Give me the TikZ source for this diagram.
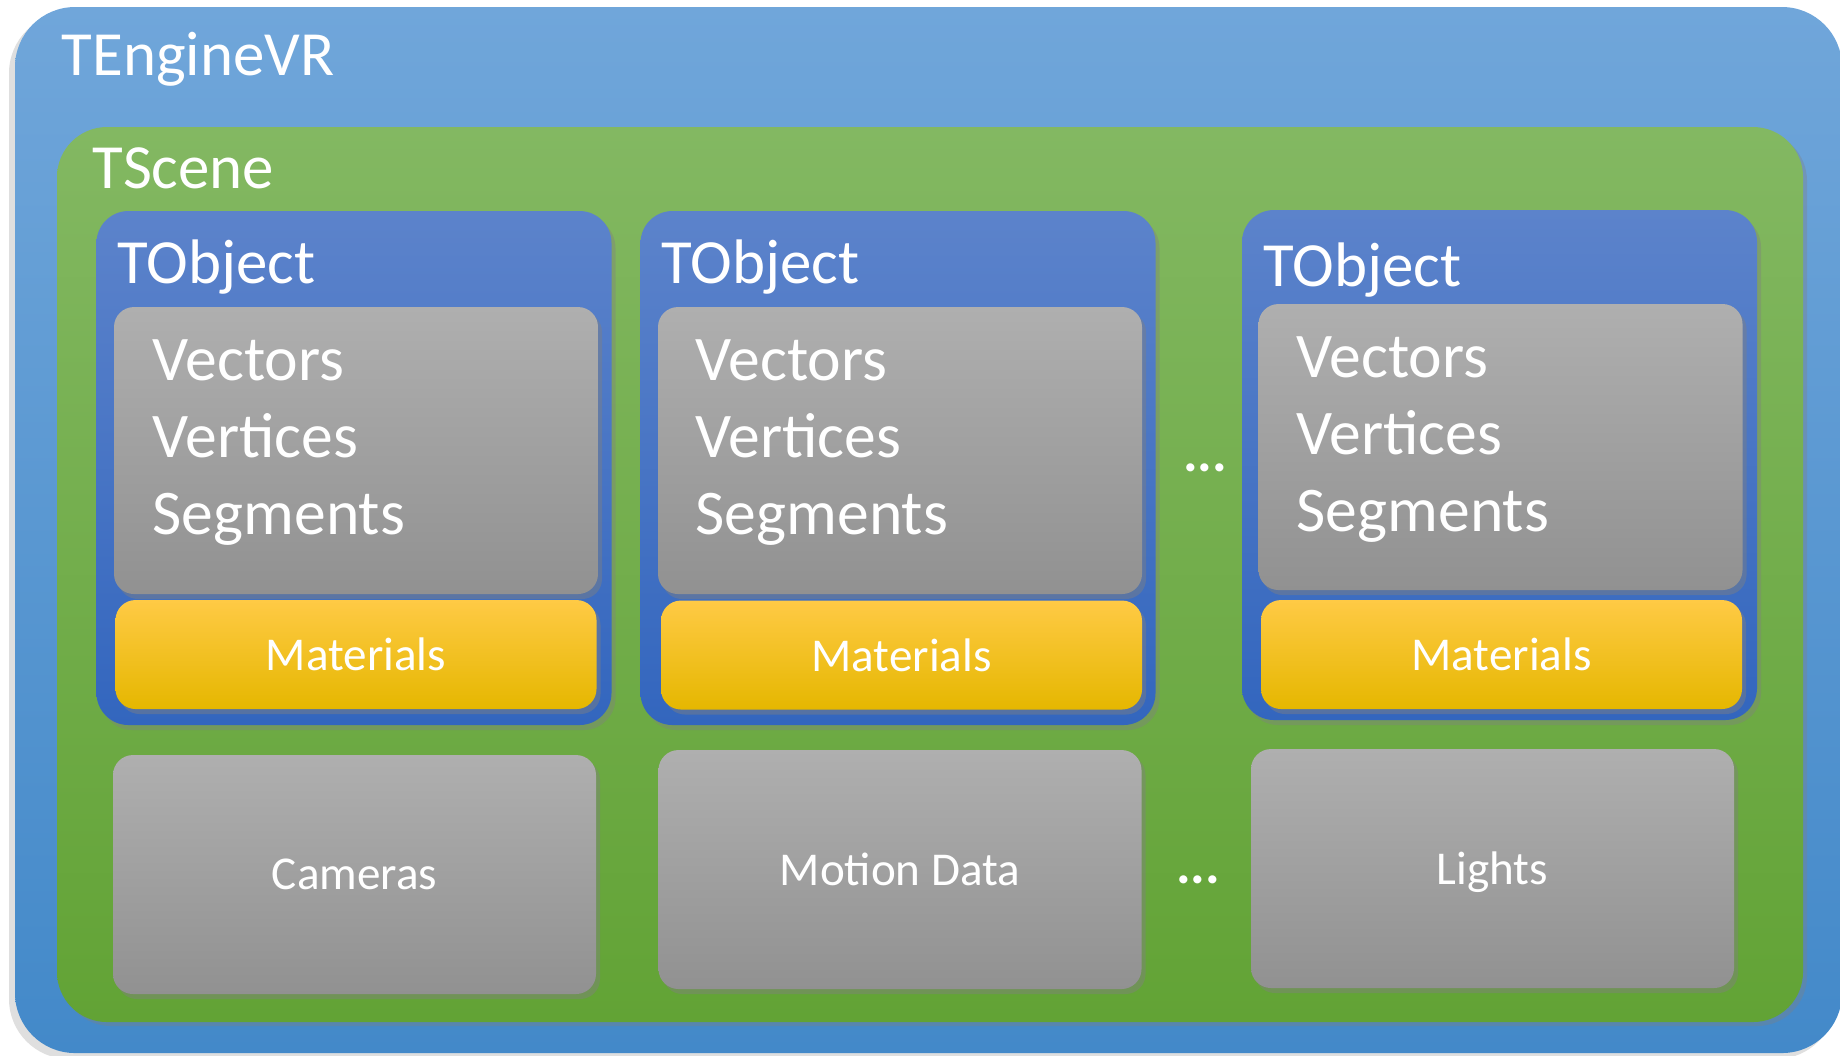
\documentclass[tikz,border=0pt]{standalone}
\usepackage{fontspec}
\setmainfont{Carlito}
\usepackage{tikz}
\usetikzlibrary{positioning,shadows}

\definecolor{engtop}{HTML}{70A6DA}
\definecolor{engbot}{HTML}{4389C9}
\definecolor{scntop}{HTML}{83B862}
\definecolor{scnbot}{HTML}{62A335}
\definecolor{objtop}{HTML}{5C83CB}
\definecolor{objbot}{HTML}{3366BE}
\definecolor{grytop}{HTML}{AFAFAF}
\definecolor{grybot}{HTML}{919191}
\definecolor{mattop}{HTML}{FFCA45}
\definecolor{matmid}{HTML}{FFC000}
\definecolor{matbot}{HTML}{E5B700}

\begin{document}
\begin{tikzpicture}[
    text=white,
    engine/.style={rectangle, top color=engtop, bottom color=engbot, rounded corners=0.6cm, minimum width=18.27cm, minimum height=10.46cm, drop shadow={shadow xshift=-0.06cm, shadow yshift=-0.06cm, opacity=0.25}},
    scene/.style={rectangle, top color=scntop, bottom color=scnbot, rounded corners=0.5cm, minimum width=17.46cm, minimum height=8.95cm, drop shadow={shadow xshift=0.04cm, shadow yshift=-0.04cm, opacity=0.35}},
    objbox/.style={rectangle, top color=objtop, bottom color=objbot, rounded corners=0.32cm, minimum width=5.15cm, minimum height=5.14cm, drop shadow={shadow xshift=0.04cm, shadow yshift=-0.05cm, opacity=0.4}},
    datbox/.style={rectangle, top color=grytop, bottom color=grybot, rounded corners=0.2cm, minimum width=4.84cm, minimum height=2.87cm, drop shadow={shadow xshift=0.04cm, shadow yshift=-0.05cm, opacity=0.45}},
    matbox/.style={rectangle, top color=mattop, middle color=matmid, bottom color=matbot, rounded corners=0.2cm, minimum width=4.81cm, minimum height=1.09cm, font=\fontsize{13.4}{16}\selectfont, drop shadow={shadow xshift=0.04cm, shadow yshift=-0.05cm, opacity=0.45}},
    sidebox/.style={rectangle, top color=grytop, bottom color=grybot, rounded corners=0.2cm, minimum width=4.83cm, minimum height=2.39cm, font=\fontsize{13.4}{16}\selectfont, drop shadow={shadow xshift=0.04cm, shadow yshift=-0.05cm, opacity=0.45}},
    title/.style={anchor=base west, inner sep=0pt, font=\fontsize{17.9}{21}\selectfont},
    listtxt/.style={anchor=base west, inner sep=0pt, align=left, font=\fontsize{18.1}{21.9}\selectfont},
    dots/.style={inner sep=0pt, font=\bfseries\fontsize{15.6}{18}\selectfont}
]
\useasboundingbox (0,0) rectangle (18.40,-10.55);

% Containers
\node[engine] (engine) at (9.285, -5.30) {};
\node[title] (englbl) at (0.61, -0.75) {TEngineVR};
\node[scene] (scene) at (9.30, -5.745) {};
\node[title] (scnlbl) at (0.92, -1.88) {TScene};

% Objects
\node[objbox] (obj1) at (3.54, -4.68) {};
\node[objbox] (obj2) at (8.98, -4.68) {};
\node[objbox, minimum height=5.10cm] (obj3) at (14.995, -4.65) {};
\node[title] (obj1lbl) at (1.17, -2.83) {TObject};
\node[title] (obj2lbl) at (6.61, -2.83) {TObject};
\node[title] (obj3lbl) at (12.63, -2.86) {TObject};

\node[datbox] (dat1) at (3.56, -4.505) {};
\node[datbox] (dat2) at (9.00, -4.505) {};
\node[datbox, minimum height=2.86cm] (dat3) at (15.005, -4.47) {};
% base anchor sits on the last line
\node[listtxt] (list1) at (1.52, -5.34) {Vectors\\Vertices\\Segments};
\node[listtxt] (list2) at (6.95, -5.34) {Vectors\\Vertices\\Segments};
\node[listtxt] (list3) at (12.96, -5.31) {Vectors\\Vertices\\Segments};

\node[matbox] (mat1) at (3.56, -6.545) {Materials};
\node[matbox] (mat2) at (9.015, -6.55) {Materials};
\node[matbox] (mat3) at (15.015, -6.545) {Materials};

% Scene data
\node[sidebox] (cams) at (3.545, -8.745) {Cameras};
\node[sidebox] (motion) at (9.00, -8.695) {Motion Data};
\node[sidebox, text depth=0pt] (lights) at (14.925, -8.685) {Lights};

\node[dots] (objdots) at (12.05, -4.68) {...};
\node[dots] (datdots) at (11.98, -8.80) {...};

\end{tikzpicture}
\end{document}
